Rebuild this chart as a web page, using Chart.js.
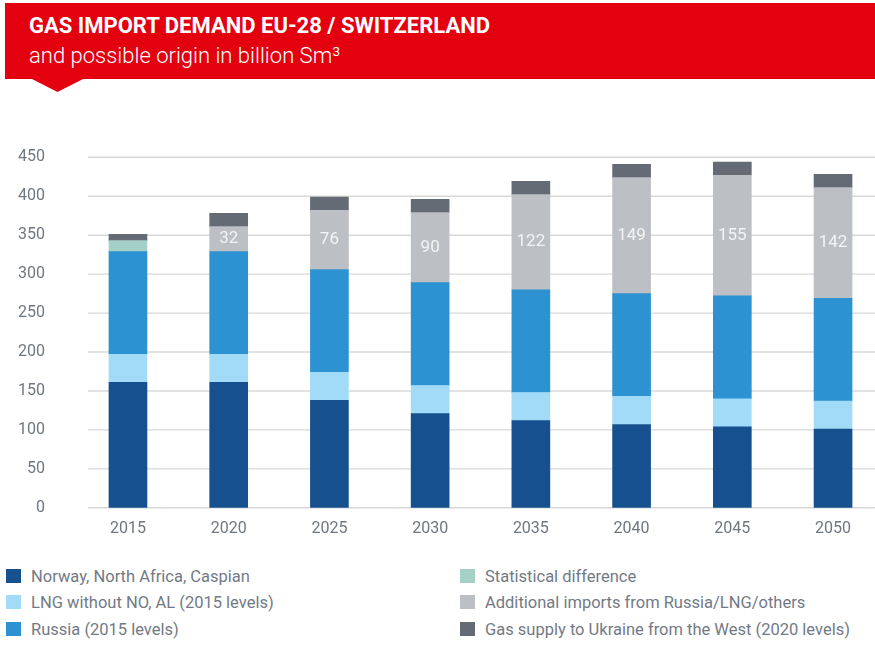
<!DOCTYPE html>
<html>
<head>
<meta charset="utf-8">
<script src="https://cdn.jsdelivr.net/npm/chart.js@4.4.1/dist/chart.umd.min.js"></script>
<style>
  html, body { margin: 0; padding: 0; background: #fff; width: 875px; height: 658px; overflow: hidden; }
  body { position: relative; font-family: Roboto, "Noto Sans", sans-serif; }
  .banner { position: absolute; left: 5px; top: 3px; width: 870px; height: 76px; background: #e3000f; }
  .pointer { position: absolute; left: 30px; top: 78px; width: 55px; height: 14px; background: #e3000f;
             clip-path: polygon(0 0, 100% 0, 50% 100%); }
  .title { position: absolute; left: 29px; top: 13px; color: #fff; font-weight: 700; font-size: 22px; white-space: nowrap; }
  .subtitle { position: absolute; left: 29px; top: 43px; color: #fff; font-weight: 300; font-size: 22px; white-space: nowrap; }
  .chartbox { position: absolute; left: 0; top: 0; width: 890px; height: 550px; }
  .legend { position: absolute; left: 0; top: 0; }
  .legend .item { position: absolute; height: 20px; display: flex; align-items: center; white-space: nowrap;
                  font-size: 16.5px; color: #727a85; }
  .legend .sw { width: 15px; height: 14px; margin-right: 10px; }
</style>
</head>
<body>
<div class="banner"></div>
<div class="pointer"></div>
<div class="title">GAS IMPORT DEMAND EU-28 / SWITZERLAND</div>
<div class="subtitle">and possible origin in billion Sm³</div>
<div class="chartbox"><canvas id="chart" width="890" height="550"></canvas></div>
<div class="legend" id="legend"></div>

<script>
// Datos (miles de millones Sm³)
const years = ["2015", "2020", "2025", "2030", "2035", "2040", "2045", "2050"];
const norway = [161, 161, 138, 121, 112, 107, 104, 101];
const lngNoNoAl = [36, 36, 36, 36, 36, 36, 36, 36];
const russia2015 = [132, 132, 132, 132, 132, 132, 132, 132];
const statDiff = [14, null, null, null, null, null, null, null];
const additional = [null, 32, 76, 90, 122, 149, 155, 142];
const ukraine = [8, 17, 17, 17, 17, 17, 17, 17];
const yTicks = [0, 50, 100, 150, 200, 250, 300, 350, 400, 450];

const seriesNames = [
  "Norway, North Africa, Caspian",
  "LNG without NO, AL (2015 levels)",
  "Russia (2015 levels)",
  "Statistical difference",
  "Additional imports from Russia/LNG/others",
  "Gas supply to Ukraine from the West (2020 levels)",
];
const seriesColors = ["#17508f", "#a2dbf7", "#2d92d1", "#a4d0c8", "#bcbfc4", "#646b75"];
const seriesData = [norway, lngNoNoAl, russia2015, statDiff, additional, ukraine];

const tickFont = { family: "Roboto", size: 16 };
const tickColor = "#6f7781";

// Líneas horizontales de la cuadrícula (de x=88 al borde derecho)
const gridPlugin = {
  id: "gridLines",
  beforeDatasetsDraw(chart) {
    const { ctx } = chart;
    const y = chart.scales.y;
    ctx.save();
    ctx.strokeStyle = "#d8d8d8";
    ctx.lineWidth = 1.4;
    yTicks.forEach((v) => {
      const py = y.getPixelForValue(v);
      ctx.beginPath();
      ctx.moveTo(88, py);
      ctx.lineTo(875, py);
      ctx.stroke();
    });
    ctx.restore();
  },
};

// Etiquetas de valor dentro de los segmentos grises
const labelPlugin = {
  id: "segLabels",
  afterDatasetsDraw(chart) {
    const { ctx } = chart;
    const meta = chart.getDatasetMeta(4);
    ctx.save();
    ctx.fillStyle = "#f4f4f4";
    ctx.font = "17px Roboto";
    ctx.textAlign = "center";
    ctx.textBaseline = "middle";
    meta.data.forEach((bar, i) => {
      const v = additional[i];
      if (v == null) return;
      const mid = (bar.y + bar.base) / 2;
      ctx.fillText(String(v), bar.x, mid);
    });
    ctx.restore();
  },
};

const chart = new Chart(document.getElementById("chart").getContext("2d"), {
  type: "bar",
  data: {
    labels: years,
    datasets: seriesData.map((d, i) => ({
      label: seriesNames[i],
      data: d,
      backgroundColor: seriesColors[i],
      borderWidth: 0,
      barThickness: 38,
    })),
  },
  options: {
    responsive: false,
    animation: false,
    layout: { padding: { top: 157.3, left: 0, right: 6.6, bottom: 0 } },
    plugins: { legend: { display: false }, tooltip: { enabled: false } },
    scales: {
      x: {
        stacked: true,
        grid: { display: false, drawTicks: false },
        border: { display: false },
        ticks: { font: tickFont, color: tickColor, padding: 12 },
        afterFit: (s) => { s.height = 550 - 508; },
      },
      y: {
        stacked: true,
        min: 0,
        max: 450,
        grid: { display: false, drawTicks: false },
        border: { display: false },
        afterBuildTicks: (s) => { s.ticks = yTicks.map((v) => ({ value: v })); },
        ticks: { font: tickFont, color: tickColor, padding: 32.6 },
        afterFit: (s) => { s.width = 77.6; },
      },
    },
  },
  plugins: [gridPlugin, labelPlugin],
});

// Leyenda en dos columnas
const legendPos = [
  [6, 566], [6, 592], [6, 619],
  [460, 566], [460, 592], [460, 619],
];
const legendEl = document.getElementById("legend");
seriesNames.forEach((name, i) => {
  const item = document.createElement("div");
  item.className = "item";
  item.style.left = legendPos[i][0] + "px";
  item.style.top = legendPos[i][1] + "px";
  item.innerHTML = `<span class="sw" style="background:${seriesColors[i]}"></span>${name}`;
  legendEl.appendChild(item);
});
</script>
</body>
</html>
